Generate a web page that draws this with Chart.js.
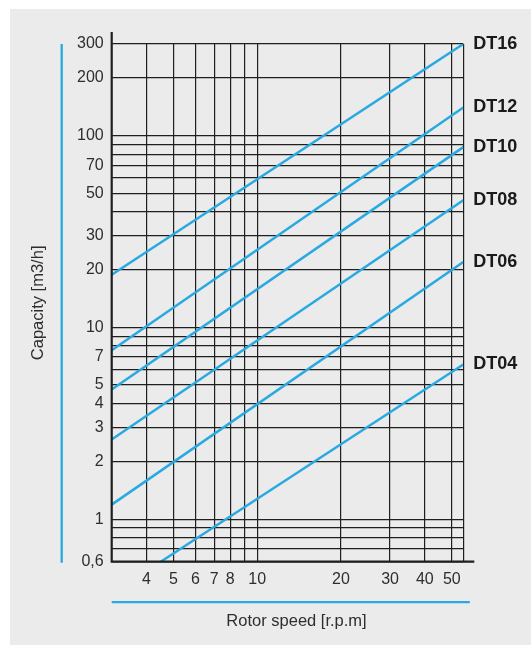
<!DOCTYPE html>
<html>
<head>
<meta charset="utf-8">
<script src="https://cdn.jsdelivr.net/npm/chart.js@4.4.1/dist/chart.umd.min.js"></script>
<style>
  html, body { margin: 0; padding: 0; background: #ffffff; }
  canvas { display: block; }
</style>
</head>
<body>
<canvas id="chart" width="531" height="645"></canvas>
<script>
// capacity lines per model, start and end points
const models = ['DT16', 'DT12', 'DT10', 'DT08', 'DT06', 'DT04'];
const speedFrom = [3, 3, 3, 3, 3, 4.5];
const speedTo = [55, 55, 55, 55, 55, 55];
const capacityFrom = [18.8, 7.6, 4.74, 2.6, 1.19, 0.6];
const capacityTo = [300, 140, 87, 46, 21.9, 6.4];

const xTicks = [4, 5, 6, 7, 8, 9, 10, 20, 30, 40, 50, 55];
const xTickLabels = ['4', '5', '6', '7', '8', '', '10', '20', '30', '40', '50', ''];
const yTicks = [0.6, 0.7, 0.8, 0.9, 1, 2, 3, 4, 5, 6, 7, 8, 9, 10, 20, 30, 40, 50, 60, 70, 80, 90, 100, 200, 300];
const yTickLabels = ['0,6', '', '', '', '1', '2', '3', '4', '5', '', '7', '', '', '10', '20', '30', '', '50', '', '70', '', '', '100', '200', '300'];
const xTitle = 'Rotor speed [r.p.m]';
const yTitle = 'Capacity [m3/h]';

const BLUE = '#29a9e1';
const INK = '#1f1f1f';
const TEXT = '#2e2e2e';
const FONT = "'Liberation Sans', Arial, sans-serif";

const decorations = {
  id: 'decorations',
  beforeDraw(chart) {
    const ctx = chart.ctx;
    ctx.save();
    ctx.fillStyle = '#ebebeb';
    ctx.fillRect(10, 9, chart.width - 10, chart.height - 9);
    ctx.restore();
  },
  afterDraw(chart) {
    const { ctx, chartArea } = chart;
    const { left, right, top, bottom } = chartArea;
    ctx.save();
    // axis lines, a bit longer than the plot
    ctx.strokeStyle = INK;
    ctx.lineWidth = 2.2;
    ctx.beginPath();
    ctx.moveTo(left, top - 12);
    ctx.lineTo(left, bottom);
    ctx.lineTo(right + 11, bottom);
    ctx.stroke();
    // blue accent bars
    ctx.strokeStyle = BLUE;
    ctx.lineWidth = 2.3;
    ctx.beginPath();
    ctx.moveTo(left - 50, top);
    ctx.lineTo(left - 50, bottom + 1);
    ctx.moveTo(left, bottom + 40.5);
    ctx.lineTo(right + 6.5, bottom + 40.5);
    ctx.stroke();
    // x title sits off-centre in the original
    ctx.fillStyle = TEXT;
    ctx.font = '16.5px ' + FONT;
    ctx.textAlign = 'center';
    ctx.textBaseline = 'middle';
    ctx.fillText(xTitle, (left + right) / 2 + 9, bottom + 60);
    // model labels at line ends
    ctx.fillStyle = '#1a1a1a';
    ctx.font = 'bold 18px ' + FONT;
    ctx.textAlign = 'left';
    chart.data.datasets.forEach((ds, i) => {
      const pts = chart.getDatasetMeta(i).data;
      const end = pts[pts.length - 1];
      ctx.fillText(ds.label, right + 10, end.y);
    });
    ctx.restore();
  }
};

const datasets = models.map((m, i) => ({
  label: m,
  data: [
    { x: speedFrom[i], y: capacityFrom[i] },
    { x: speedTo[i], y: capacityTo[i] }
  ],
  borderColor: BLUE,
  backgroundColor: BLUE,
  borderWidth: 2.5,
  pointRadius: 0,
  tension: 0
}));

new Chart(document.getElementById('chart'), {
  type: 'line',
  data: { datasets },
  plugins: [decorations],
  options: {
    responsive: false,
    animation: false,
    layout: { padding: { left: 0, right: 67.7, top: 44, bottom: 0 } },
    plugins: {
      legend: { display: false },
      tooltip: { enabled: false }
    },
    scales: {
      x: {
        type: 'logarithmic',
        min: 3,
        max: 55,
        afterFit: (s) => { s.height = 83.3; },
        afterBuildTicks: (s) => { s.ticks = xTicks.map(v => ({ value: v })); },
        ticks: {
          autoSkip: false,
          maxRotation: 0,
          padding: 8,
          color: TEXT,
          font: { family: FONT, size: 16 },
          callback: (v, i) => xTickLabels[i]
        },
        grid: { color: INK, lineWidth: 1.2, drawTicks: false },
        border: { display: false }
      },
      y: {
        type: 'logarithmic',
        min: 0.6,
        max: 300,
        afterFit: (s) => { s.width = 111.7; },
        afterBuildTicks: (s) => { s.ticks = yTicks.map(v => ({ value: v })); },
        ticks: {
          autoSkip: false,
          padding: 8,
          color: TEXT,
          font: { family: FONT, size: 16 },
          callback: (v, i) => yTickLabels[i]
        },
        grid: { color: INK, lineWidth: 1.2, drawTicks: false },
        border: { display: false },
        title: {
          display: true,
          text: yTitle,
          color: TEXT,
          font: { family: FONT, size: 16.5 },
          padding: { top: 29, bottom: 0 }
        }
      }
    }
  }
});
</script>
</body>
</html>
